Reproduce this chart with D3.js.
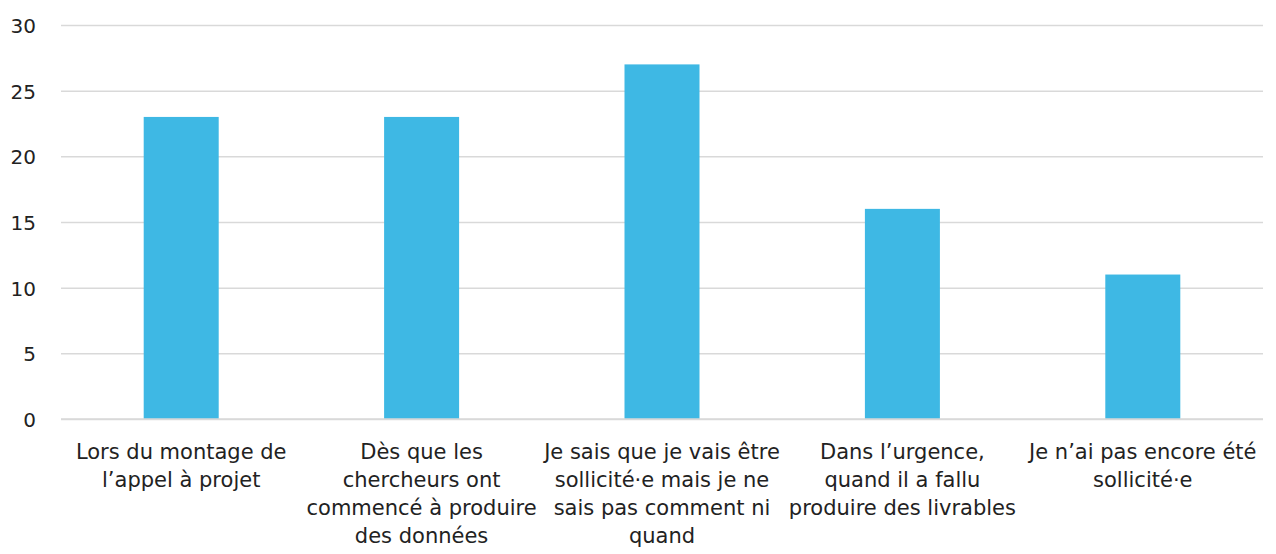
<!DOCTYPE html>
<html>
<head>
<meta charset="utf-8">
<script src="https://cdn.jsdelivr.net/npm/d3@7"></script>
<style>
  body { margin: 0; background: #fff; }
</style>
</head>
<body>
<div id="chart"></div>
<script>
// categories, each one already split in lines as in the picture
const categories = [
   ["Lors du montage de", "l\u2019appel à projet"],
   ["Dès que les", "chercheurs ont", "commencé à produire", "des données"],
   ["Je sais que je vais être", "sollicité·e mais je ne", "sais pas comment ni", "quand"],
   ["Dans l\u2019urgence,", "quand il a fallu", "produire des livrables"],
   ["Je n\u2019ai pas encore été", "sollicité·e"]
]
const values = [23, 23, 27, 16, 11]
const yTicks = [0, 5, 10, 15, 20, 25, 30]

const width = 1276
const height = 554
const margin = { top: 25, right: 13, bottom: 135, left: 61 }
const font = "'DejaVu Sans', sans-serif"

const x = d3.scaleBand()
   .domain(d3.range(values.length))
   .range([margin.left, width - margin.right])
   .paddingInner(0)

const y = d3.scaleLinear()
   .domain([0, 30])
   .range([height - margin.bottom, margin.top])

const barWidth = 75

const svg = d3.create("svg")
   .attr("width", width)
   .attr("height", height)
   .attr("viewBox", [0, 0, width, height])

// gridlines + y labels
const yAxis = g => g
   .attr("transform", `translate(${margin.left},0)`)
   .call(d3.axisLeft(y).tickValues(yTicks).tickSize(-(width - margin.left - margin.right)).tickPadding(25))
   .call(g => g.select(".domain").remove())
   .call(g => g.selectAll(".tick line").attr("stroke", "#d9d9d9").attr("stroke-width", 1.5))
   .call(g => g.selectAll(".tick text")
      .attr("fill", "#222")
      .attr("font-family", font)
      .attr("font-size", 20)
      .attr("dy", "0.38em"))

svg.append("g").call(yAxis)

svg.append("g")
   .attr("fill", "#3eb8e4")
   .selectAll("rect")
   .data(values)
   .join("rect")
   .attr("x", (d, i) => x(i) + x.bandwidth() / 2 - barWidth / 2)
   .attr("y", d => y(d))
   .attr("width", barWidth)
   .attr("height", d => y(0) - y(d))

// redraw baseline on top of bars
svg.append("line")
   .attr("x1", margin.left)
   .attr("x2", width - margin.right)
   .attr("y1", y(0))
   .attr("y2", y(0))
   .attr("stroke", "#d9d9d9")
   .attr("stroke-width", 1.5)

// x labels
const labels = svg.append("g")
   .attr("fill", "#222")
   .attr("font-family", font)
   .attr("font-size", 21)
   .attr("text-anchor", "middle")
   .selectAll("text")
   .data(categories)
   .join("text")
   .attr("x", (d, i) => x(i) + x.bandwidth() / 2)
   .attr("y", y(0) + 40)

labels.selectAll("tspan")
   .data(d => d)
   .join("tspan")
   .attr("x", function () { return this.parentNode.getAttribute("x") })
   .attr("dy", (d, i) => i === 0 ? 0 : 28)
   .text(d => d)

d3.select("#chart").node().append(svg.node())
</script>
</body>
</html>
